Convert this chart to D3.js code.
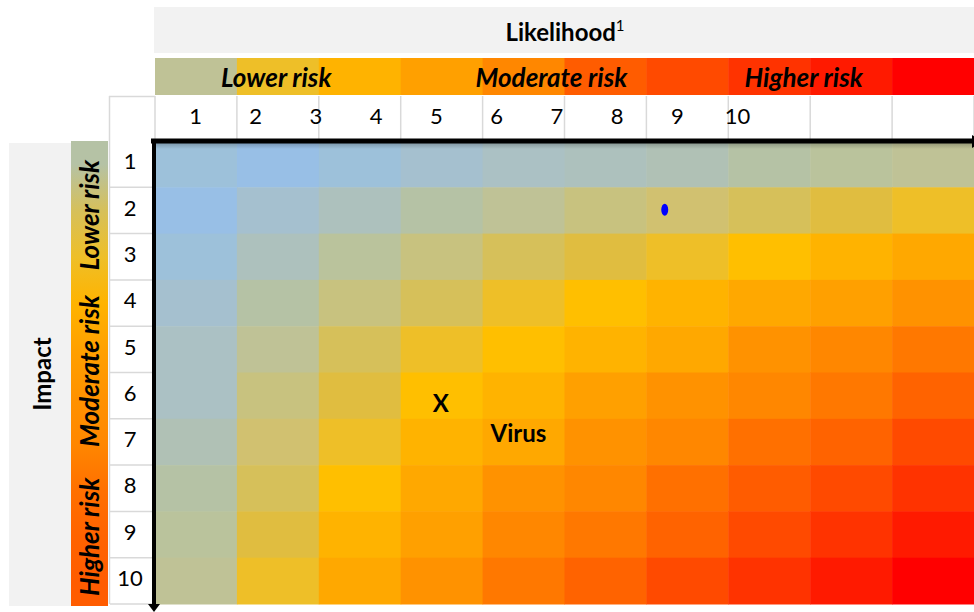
<!DOCTYPE html>
<html>
<head>
<meta charset="utf-8">
<script src="https://cdn.jsdelivr.net/npm/d3@7"></script>
<style>
  body { margin: 0; background: #ffffff; }
  svg { display: block; }
  text { font-family: Lato, "Open Sans", "DejaVu Sans", sans-serif; fill: #000; }
</style>
</head>
<body>
<svg id="chart" width="974" height="612"></svg>
<script>
// ---- data -------------------------------------------------------------
const likelihoodTicks = [1, 2, 3, 4, 5, 6, 7, 8, 9, 10];
const impactTicks = [1, 2, 3, 4, 5, 6, 7, 8, 9, 10];
const riskLevels = ["Lower risk", "Moderate risk", "Higher risk"];

// risk score of each cell, rows = impact 1..10, columns = likelihood bands
const riskScores = [
  [1, 0, 1, 2, 3, 4, 5, 6, 7, 8],
  [0, 2, 4, 6, 8, 9, 10, 11, 12, 13],
  [1, 4, 7, 9, 11, 12, 13, 14, 15, 16],
  [2, 6, 9, 11, 13, 14, 15, 16, 17, 18],
  [3, 8, 11, 13, 14, 15, 16, 18, 19, 20],
  [3, 9, 12, 14, 15, 17, 18, 19, 20, 22],
  [5, 10, 13, 15, 16, 18, 19, 21, 22, 24],
  [6, 11, 14, 16, 18, 19, 21, 23, 24, 25],
  [7, 12, 15, 17, 19, 20, 22, 24, 25, 26],
  [8, 13, 16, 18, 20, 22, 24, 25, 26, 27]
];
// scores of the likelihood strip (per column) and impact strip (per row)
const likelihoodStripScores = [8, 13, 15, 17, 19, 23, 24, 25, 26, 27];
const impactStripScores = [6, 11, 13, 15, 17, 18, 19, 21, 22, 23];

// labelled items on the matrix
const marks = [
  { label: "X", likelihood: 5.08, impact: 6.15 },
  { label: "Virus", likelihood: 6.37, impact: 6.8 }
];
const points = [{ likelihood: 8.8, impact: 1.98 }];

// ---- styles -----------------------------------------------------------
const palette = [
  "#98bfe6", "#9dc1da", "#a5c0cf", "#abc1c4", "#adc1bd", "#b0c1b5", "#b5c2a5",
  "#bac39c", "#bfc296", "#c8c27f", "#d1c170", "#d6c05a", "#e0bd40", "#eebf28",
  "#ffbf00", "#ffb300", "#ffa800", "#ffa000", "#ff9200", "#ff8700", "#ff7800",
  "#ff7000", "#ff6300", "#ff5c00", "#ff4a00", "#ff3300", "#ff1a00", "#ff0000"
];
const riskColor = s => palette[s];
const FONT = 'Lato, "Open Sans", sans-serif';

const svg = d3.select("#chart");
const grid = { left: 155, right: 974, top: 141, bottom: 604 };
const headerGray = "#f2f2f2";
const ruleGray = "#d9d9d9";

const col = d3.scaleBand().domain(d3.range(10)).range([grid.left, grid.right]);
const row = d3.scaleBand().domain(d3.range(10)).range([grid.top, grid.bottom]);
const colUnit = d3.scaleLinear().domain([0, 10]).range([grid.left, grid.right]);
const rowUnit = d3.scaleLinear().domain([0, 10]).range([grid.top, grid.bottom]);
const x = d3.scaleLinear().domain([1, 10]).range([195, 737]);
const y = d3.scaleLinear().domain([1, 10]).range([164.5, 581]);

const defs = svg.append("defs");

// ---- title bands --------------------------------------------------------
svg.append("rect").attr("x", 154).attr("y", 7).attr("width", 820).attr("height", 46)
  .attr("fill", headerGray);
const title = svg.append("text").attr("x", 565).attr("y", 31)
  .attr("text-anchor", "middle").attr("dominant-baseline", "central")
  .style("font-size", "24px").style("font-weight", 700);
title.append("tspan").text("Likelihood");
title.append("tspan").text("1").attr("dy", "-0.4em")
  .style("font-size", "15px").style("font-weight", 400);

svg.append("rect").attr("x", 9).attr("y", 143).attr("width", 62).attr("height", 463)
  .attr("fill", headerGray);
svg.append("text")
  .attr("transform", "translate(41,374) rotate(-90)")
  .attr("text-anchor", "middle").attr("dominant-baseline", "central")
  .style("font-size", "24px").style("font-weight", 700)
  .text("Impact");

// ---- likelihood colour strip -----------------------------------------
svg.append("g").selectAll("rect").data(likelihoodStripScores).join("rect")
  .attr("x", (d, i) => col(i))
  .attr("y", 58)
  .attr("width", col.bandwidth() + 0.5)
  .attr("height", 37)
  .attr("fill", d => riskColor(d));

const stripLabelX = [1.48, 4.84, 7.92];
svg.append("g").selectAll("text").data(riskLevels).join("text")
  .attr("x", (d, i) => colUnit(stripLabelX[i]))
  .attr("y", 77)
  .attr("text-anchor", "middle").attr("dominant-baseline", "central")
  .style("font-size", "26px").style("font-weight", 700).style("font-style", "italic")
  .text(d => d);

// ---- impact colour strip (vertical gradient) --------------------------
const grad = defs.append("linearGradient").attr("id", "impactStrip")
  .attr("x1", 0).attr("y1", 0).attr("x2", 0).attr("y2", 1);
grad.selectAll("stop").data(impactStripScores).join("stop")
  .attr("offset", (d, i) => ((row(i) + row.bandwidth() / 2 - grid.top) / (grid.bottom - grid.top)))
  .attr("stop-color", d => riskColor(d));
svg.append("rect").attr("x", 71).attr("y", grid.top).attr("width", 37)
  .attr("height", grid.bottom - grid.top + 2).attr("fill", "url(#impactStrip)");

const stripLabelY = [1.6, 4.97, 8.55];
svg.append("g").selectAll("text").data(riskLevels).join("text")
  .attr("transform", (d, i) => `translate(89,${rowUnit(stripLabelY[i])}) rotate(-90)`)
  .attr("text-anchor", "middle").attr("dominant-baseline", "central")
  .style("font-size", "26px").style("font-weight", 700).style("font-style", "italic")
  .text(d => d);

// ---- number header row and number column --------------------------------
svg.append("rect").attr("x", 109).attr("y", 96).attr("width", 865).attr("height", 45)
  .attr("fill", "#fff");
const headerRules = svg.append("g").attr("stroke", ruleGray).attr("stroke-width", 1.5);
headerRules.selectAll("line.v").data(d3.range(11)).join("line")
  .attr("class", "v")
  .attr("x1", i => colUnit(i)).attr("x2", i => colUnit(i))
  .attr("y1", 96).attr("y2", grid.top);
headerRules.append("line").attr("x1", 109.5).attr("x2", 109.5).attr("y1", 96).attr("y2", grid.bottom);
headerRules.append("line").attr("x1", 109).attr("x2", 155).attr("y1", 96.5).attr("y2", 96.5);
headerRules.selectAll("line.h").data(d3.range(1, 11)).join("line")
  .attr("class", "h")
  .attr("x1", 110).attr("x2", grid.left)
  .attr("y1", i => rowUnit(i)).attr("y2", i => rowUnit(i));

const topAxis = svg.append("g").attr("transform", "translate(0,117)")
  .call(d3.axisTop(x).tickValues(likelihoodTicks).tickSize(0).tickPadding(0));
topAxis.select(".domain").remove();
topAxis.selectAll("text").attr("y", 0).attr("dy", "0.33em")
  .style("font-family", FONT).style("font-size", "22px");

const leftAxis = svg.append("g").attr("transform", "translate(130,0)")
  .call(d3.axisLeft(y).tickValues(impactTicks).tickSize(0).tickPadding(0));
leftAxis.select(".domain").remove();
leftAxis.selectAll("text").attr("x", 0).attr("dy", "0.2em").attr("text-anchor", "middle")
  .style("font-family", FONT).style("font-size", "22px");

// ---- heat-map cells -----------------------------------------------------
const cells = riskScores.flatMap((r, ri) => r.map((s, ci) => ({ ri, ci, s })));
svg.append("g").selectAll("rect").data(cells).join("rect")
  .attr("x", d => col(d.ci))
  .attr("y", d => row(d.ri))
  .attr("width", col.bandwidth() + 0.5)
  .attr("height", row.bandwidth() + 0.5)
  .attr("fill", d => riskColor(d.s));

// soft shadow under the top rule
const shade = defs.append("linearGradient").attr("id", "shade")
  .attr("x1", 0).attr("y1", 0).attr("x2", 0).attr("y2", 1);
shade.append("stop").attr("offset", 0).attr("stop-color", "#000").attr("stop-opacity", 0.22);
shade.append("stop").attr("offset", 1).attr("stop-color", "#000").attr("stop-opacity", 0);
svg.append("rect").attr("x", grid.left).attr("y", grid.top + 2).attr("width", grid.right - grid.left)
  .attr("height", 6).attr("fill", "url(#shade)");

// ---- marks --------------------------------------------------------------
svg.append("g").selectAll("text").data(marks).join("text")
  .attr("x", d => x(d.likelihood))
  .attr("y", d => y(d.impact))
  .attr("text-anchor", "middle").attr("dominant-baseline", "central")
  .style("font-size", "24px").style("font-weight", 700)
  .text(d => d.label);

svg.append("g").selectAll("ellipse").data(points).join("ellipse")
  .attr("cx", d => x(d.likelihood))
  .attr("cy", d => y(d.impact))
  .attr("rx", 3.5).attr("ry", 6)
  .attr("fill", "#0000ff");

// ---- axis rules with arrow heads -------------------------------------------
svg.append("line").attr("x1", 151).attr("x2", 974).attr("y1", 141).attr("y2", 141)
  .attr("stroke", "#000").attr("stroke-width", 5);
svg.append("line").attr("x1", 154).attr("x2", 154).attr("y1", 139).attr("y2", 605)
  .attr("stroke", "#000").attr("stroke-width", 4);
svg.append("path").attr("d", "M148,604 L160,604 L154,612 Z").attr("fill", "#000");
svg.append("path").attr("d", "M972,135 L972,148 L982,141.5 Z").attr("fill", "#000");
</script>
</body>
</html>
